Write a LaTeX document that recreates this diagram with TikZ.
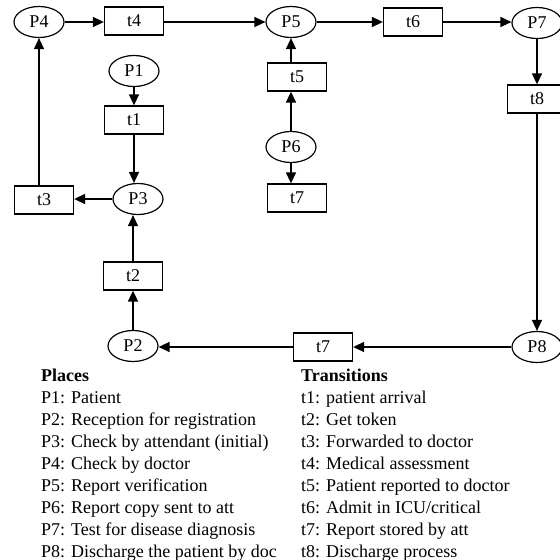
\documentclass[tikz,border=0pt]{standalone}
\usepackage{fontspec}
\setmainfont{Liberation Serif}
\usepackage{tikz}
\usetikzlibrary{shapes.geometric,arrows.meta}
\tikzset{
  place/.style={draw,ellipse,line width=1.2pt,minimum width=50pt,minimum height=31pt,inner sep=0pt,font=\fontsize{18}{22}\selectfont},
  trans/.style={draw,rectangle,line width=1.3pt,minimum width=59pt,minimum height=28pt,inner sep=0pt,font=\fontsize{18}{22}\selectfont},
  arc/.style={line width=1.5pt,-{Triangle[length=11pt,width=10pt]}},
  legend/.style={anchor=base west,align=left,inner sep=0pt,font=\fontsize{18}{22}\selectfont}
}

\begin{document}
\begin{tikzpicture}[x=1pt,y=-1pt]
\path[use as bounding box] (0,0) rectangle (560,560);
\node[place] (p4) at (39,22) {P4};
\node[trans] (t4) at (134,21) {t4};
\node[place] (p5) at (291,22) {P5};
\node[trans] (t6) at (413,22) {t6};
\node[place] (p7) at (537,23) {P7};
\node[trans] (t8) at (537,99) {t8};
\node[place] (p8) at (537,347) {P8};
\node[trans] (t7bot) at (323,347) {t7};
\node[place] (p2) at (133,346) {P2};
\node[trans] (t2) at (133,276) {t2};
\node[place] (p3) at (138,199) {P3};
\node[trans] (t3) at (44,200) {t3};
\node[place] (p1) at (134,71) {P1};
\node[trans] (t1) at (134,120) {t1};
\node[trans] (t5) at (297,77) {t5};
\node[place] (p6) at (291,147) {P6};
\node[trans] (t7top) at (297,198) {t7};
\draw[arc] (p4.east) -- (p4.east -| t4.west);
\draw[arc] (t4.east |- p5.west) -- (p5.west);
\draw[arc] (p5.east) -- (p5.east -| t6.west);
\draw[arc] (t6.east) -- (t6.east -| p7.west);
\draw[arc] (p7.south) -- (t8.north);
\draw[arc] (t8.south) -- (p8.north);
\draw[arc] (p8.west) -- (p8.west -| t7bot.east);
\draw[arc] (t7bot.west) -- (t7bot.west -| p2.east);
\draw[arc] (p2.north) -- (t2.south);
\draw[arc] (t2.north) -- (t2.north |- p3.south);
\draw[arc] (p1.south) -- (t1.north);
\draw[arc] (t1.south) -- (t1.south |- p3.north);
\draw[arc] (p3.west) -- (p3.west -| t3.east);
\draw[arc] (p4.south |- t3.north) -- (p4.south);
\draw[arc] (p6.north) -- (p6.north |- t5.south);
\draw[arc] (p5.south |- t5.north) -- (p5.south);
\draw[arc] (p6.south) -- (p6.south |- t7top.north);
\node[legend] (places) at (41,557) {\textbf{Places}\\
P1: Patient\\
P2: Reception for registration\\
P3: Check by attendant (initial)\\
P4: Check by doctor\\
P5: Report verification\\
P6: Report copy sent to att\\
P7: Test for disease diagnosis\\
P8: Discharge the patient by doc};
\node[legend] (transitions) at (301,557) {\textbf{Transitions}\\
t1: patient arrival\\
t2: Get token\\
t3: Forwarded to doctor\\
t4: Medical assessment\\
t5: Patient reported to doctor\\
t6: Admit in ICU/critical\\
t7: Report stored by att\\
t8: Discharge process};
\end{tikzpicture}
\end{document}
